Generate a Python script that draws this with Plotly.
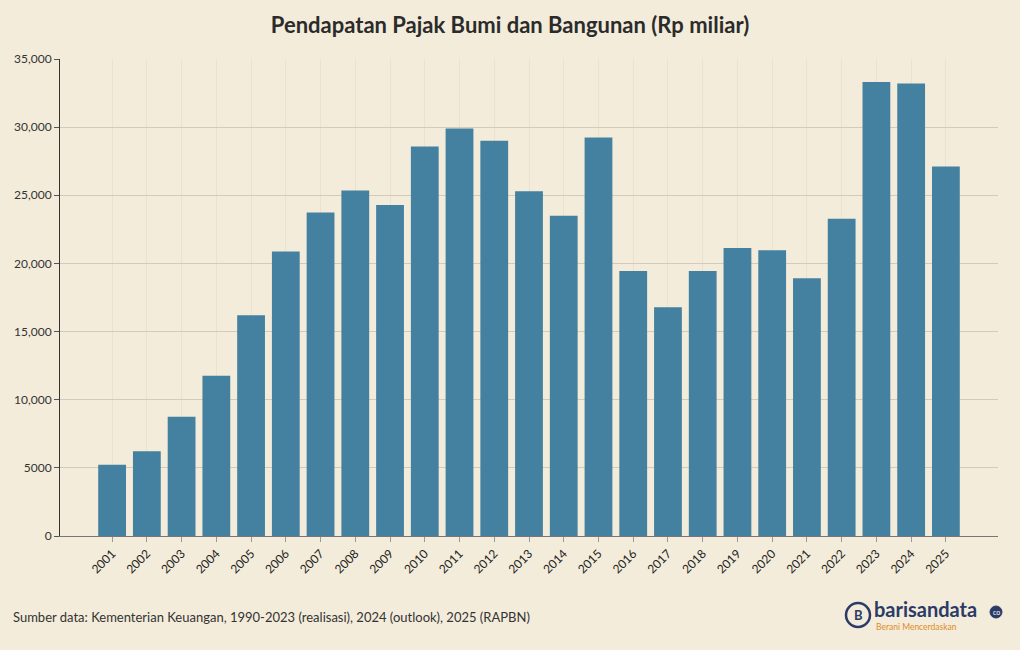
import plotly.graph_objects as go

years = [str(y) for y in range(2001, 2026)]
values = [5220, 6210, 8750, 11760, 16200, 20870, 23730, 25350, 24290, 28580,
          29900, 29000, 25300, 23490, 29240, 19450, 16780, 19450, 21140, 20970,
          18910, 23270, 33310, 33210, 27110]

title_text = "Pendapatan Pajak Bumi dan Bangunan (Rp miliar)"
source_text = "Sumber data: Kementerian Keuangan, 1990-2023 (realisasi), 2024 (outlook), 2025 (RAPBN)"

BG = "#F3ECDA"
BAR = "#44809F"
FONT = "Lato"
NAVY = "#2B3A67"

W, H = 1020, 650
L, R, T, B = 60, 22, 59, 114
PW, PH = W - L - R, H - T - B


def px(x):
    return (x - L) / PW


def py(y):
    return (H - B - y) / PH


fig = go.Figure(go.Bar(x=years, y=values, marker=dict(color=BAR, line=dict(width=0)),
                       hoverinfo="x+y"))

fig.update_layout(
    width=W, height=H,
    paper_bgcolor=BG, plot_bgcolor=BG,
    margin=dict(l=L, r=R, t=T, b=B),
    bargap=0.2,
    showlegend=False,
    font=dict(family=FONT, color="#333333", size=12),
    title=dict(text="<b>" + title_text + "</b>", x=0.5, xanchor="center",
               y=1 - 25 / H, yanchor="middle",
               font=dict(family=FONT, size=22, color="#2b2b2b")),
)

fig.update_xaxes(
    type="category", range=[-1.5, 25.5], tickangle=-45,
    showgrid=True, gridcolor="rgba(120,100,80,0.07)", gridwidth=1,
    showline=True, linecolor="#777777", linewidth=1,
    ticks="outside", ticklen=5, tickcolor="#999999",
    tickfont=dict(size=12, color="#222222"),
)
fig.update_yaxes(
    range=[0, 35000], dtick=5000, exponentformat="none",
    showgrid=True, gridcolor="#D3CABE", gridwidth=1,
    showline=True, linecolor="#333333", linewidth=1,
    ticks="outside", ticklen=5, tickcolor="#555555",
    tickfont=dict(size=12, color="#333333"), zeroline=False,
)

fig.add_annotation(text=source_text, xref="paper", yref="paper",
                   x=px(11), y=py(617), xanchor="left", yanchor="middle",
                   showarrow=False, font=dict(family=FONT, size=13, color="#333333"))

# logo
fig.add_shape(type="circle", xref="paper", yref="paper",
              x0=px(846), x1=px(870), y0=py(627), y1=py(603),
              line=dict(color=NAVY, width=2.5), fillcolor=BG)
fig.add_annotation(text="<b>B</b>", xref="paper", yref="paper",
                   x=px(858), y=py(615), xanchor="center", yanchor="middle",
                   showarrow=False, font=dict(family=FONT, size=13, color=NAVY))
fig.add_annotation(text="<b>barisandata</b>", xref="paper", yref="paper",
                   x=px(872), y=py(609), xanchor="left", yanchor="middle",
                   showarrow=False, font=dict(family=FONT, size=20, color=NAVY))
fig.add_annotation(text="Berani Mencerdaskan", xref="paper", yref="paper",
                   x=px(874), y=py(627), xanchor="left", yanchor="middle",
                   showarrow=False, font=dict(family=FONT, size=8.5, color="#E08A2B"))
fig.add_shape(type="circle", xref="paper", yref="paper",
              x0=px(990), x1=px(1002), y0=py(618), y1=py(606),
              line=dict(color=NAVY, width=1), fillcolor=NAVY)
fig.add_annotation(text="co", xref="paper", yref="paper",
                   x=px(996), y=py(612), xanchor="center", yanchor="middle",
                   showarrow=False, font=dict(family=FONT, size=7, color="#FFFFFF"))

fig.write_html("out.html", config={"displayModeBar": False},
               post_script="document.body.style.margin='0';document.body.style.padding='0';")
